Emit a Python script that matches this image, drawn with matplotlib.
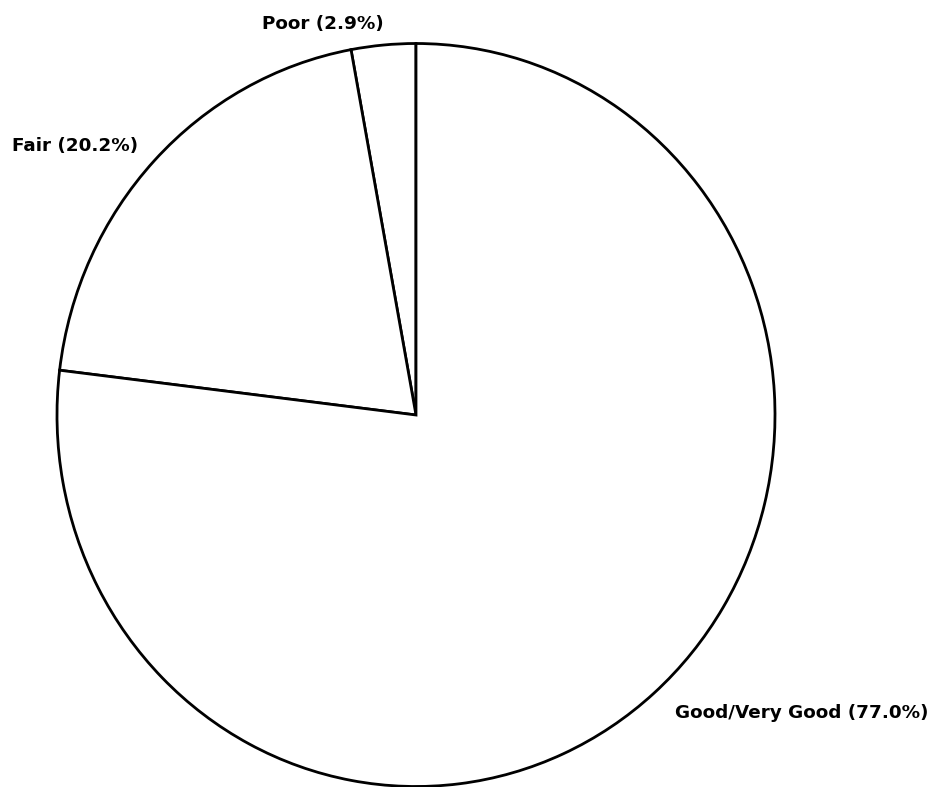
import matplotlib
matplotlib.use("Agg")
import matplotlib.pyplot as plt

categories = ["Poor", "Fair", "Good/Very Good"]
shares = [2.9, 20.2, 77.0]

W, H = 932, 787
fig = plt.figure(figsize=(W / 100, H / 100), dpi=100)

# pie centre and radii in pixels (scan is slightly stretched vertically)
cx, cy, rx, ry = 416, 415, 359, 371.5
ax = fig.add_axes([(cx - rx) / W, 1 - (cy + ry) / H, 2 * rx / W, 2 * ry / H])
ax.pie(shares, startangle=90, counterclock=True, radius=1,
       colors=["white"] * len(shares),
       wedgeprops=dict(edgecolor="black", linewidth=2.0))
ax.set_aspect("auto")
ax.set_xlim(-1.0, 1.0)
ax.set_ylim(-1.0, 1.0)
ax.axis("off")

labels = [f"{c} ({v:.1f}%)" for c, v in zip(categories, shares)]
# label anchor points (left edge, vertical centre) in pixels
spots = [(262, 24), (12, 146), (675, 713)]
for lab, (x, y) in zip(labels, spots):
    fig.text(x / W, 1 - y / H, lab, ha="left", va="center",
             fontsize=13.2, fontweight="bold", family="DejaVu Sans")

fig.savefig("out.png", dpi=100, facecolor="white")
